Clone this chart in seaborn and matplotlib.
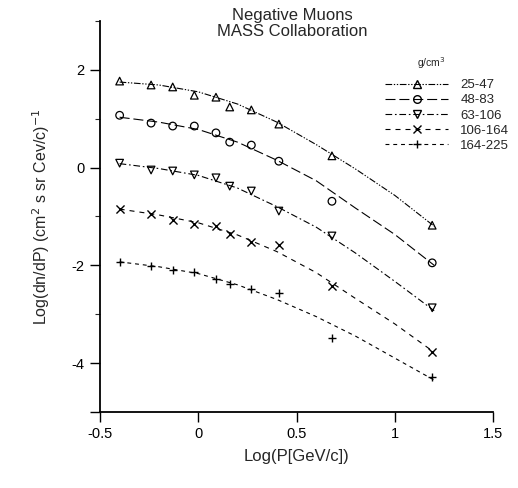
import numpy as np
import pandas as pd
import matplotlib
matplotlib.use("Agg")
import matplotlib.pyplot as plt
from matplotlib.lines import Line2D
from matplotlib.ticker import MultipleLocator
import seaborn as sns

sns.set_theme(style="ticks")
plt.rcParams['font.family'] = ['Liberation Sans', 'DejaVu Sans']

labels = ["25-47", "48-83", "63-106", "106-164", "164-225"]
markers = ["^", "o", "v", "x", "+"]

# measured points (log P, log dn/dP)
x_pts = [-0.40, -0.24, -0.13, -0.02, 0.09, 0.16, 0.27, 0.41, 0.68, 1.19]
y_25_47 = [1.77, 1.69, 1.65, 1.48, 1.44, 1.24, 1.18, 0.89, 0.24, -1.18]
y_48_83 = [1.07, 0.91, 0.85, 0.85, 0.71, 0.52, 0.46, 0.13, -0.69, -1.95]
y_63_106 = [0.09, -0.05, -0.07, -0.15, -0.21, -0.38, -0.48, -0.89, -1.40, -2.87]
y_106_164 = [-0.85, -0.95, -1.07, -1.16, -1.20, -1.36, -1.52, -1.58, -2.42, -3.77]
y_164_225 = [-1.93, -2.01, -2.10, -2.14, -2.28, -2.38, -2.48, -2.57, -3.48, -4.28]

# fitted curves
x_fit = [-0.40, -0.20, 0.00, 0.20, 0.40, 0.60, 0.80, 1.00, 1.20]
f_25_47 = [1.75, 1.69, 1.55, 1.30, 0.93, 0.47, -0.03, -0.57, -1.20]
f_48_83 = [1.03, 0.93, 0.78, 0.52, 0.15, -0.27, -0.83, -1.37, -2.00]
f_63_106 = [0.08, -0.02, -0.16, -0.42, -0.80, -1.22, -1.75, -2.33, -2.93]
f_106_164 = [-0.85, -0.97, -1.13, -1.38, -1.72, -2.15, -2.68, -3.20, -3.78]
f_164_225 = [-1.93, -2.03, -2.17, -2.40, -2.70, -3.05, -3.45, -3.90, -4.35]

xtick_vals = [-0.5, 0, 0.5, 1, 1.5]
xtick_labels = ["-0.5", "0", "0.5", "1", "1.5"]
ytick_vals = [-5, -4, -2, 0, 2]
ytick_labels = ["", "-4", "-2", "0", "2"]

pts = [y_25_47, y_48_83, y_63_106, y_106_164, y_164_225]
fits = [f_25_47, f_48_83, f_63_106, f_106_164, f_164_225]
styles = [(0, (6, 1.5, 1.2, 1.5, 1.2, 1.5)), (0, (9, 3.5)), (0, (6, 2.5, 1.5, 2.5)),
          (0, (4.5, 4.5)), (0, (3.5, 3.5))]

fig = plt.figure(figsize=(5.18, 4.88), dpi=100)
ax = fig.add_axes([0.193, 0.156, 0.759, 0.801])

for lab, mk, yp, yf, ls in zip(labels, markers, pts, fits, styles):
    sns.lineplot(x=x_fit, y=yf, ax=ax, color="black", linewidth=0.8, linestyle=ls)
    if mk in ("x", "+"):
        sns.scatterplot(x=x_pts, y=yp, ax=ax, marker=mk, color="black", s=34, linewidth=1.0)
    else:
        sns.scatterplot(x=x_pts, y=yp, ax=ax, marker=mk, facecolor="none",
                        edgecolor="black", s=30, linewidth=0.9)

ax.set_xlim(-0.5, 1.5)
ax.set_ylim(-5, 3)
ax.set_xticks(xtick_vals)
ax.set_xticklabels(xtick_labels)
ax.set_yticks(ytick_vals)
ax.set_yticklabels(ytick_labels)
ax.yaxis.set_minor_locator(MultipleLocator(1))
ax.tick_params(axis="both", which="major", direction="out", length=7.5, width=1.0,
               labelsize=10.5, colors="black")
ax.tick_params(axis="y", which="minor", direction="out", length=3.5, width=0.8)
for s in ["top", "right"]:
    ax.spines[s].set_visible(False)
for s in ["left", "bottom"]:
    ax.spines[s].set_color("black")
    ax.spines[s].set_linewidth(1.3)

ax.set_xlabel("Log(P[GeV/c])", fontsize=12, labelpad=6)
ax.set_ylabel("Log(dn/dP) (cm$^2$ s sr Cev/c)$^{-1}$", fontsize=11.5, labelpad=14)

fig.text(292 / 518, 1 - 8 / 488, "Negative Muons\nMASS Collaboration", ha="center", va="top",
         fontsize=12, linespacing=1.1)

fig.text(431 / 518, 1 - 63 / 488, "g/cm$^3$", ha="center", va="center", fontsize=7.5)

handles = [Line2D([], [], color="black", linewidth=0.8, linestyle=ls, marker=mk,
                  markerfacecolor="none", markeredgecolor="black", markersize=5.5)
           for mk, ls in zip(markers, styles)]
leg = fig.legend(handles, labels, loc="upper left",
                 bbox_to_anchor=(385 / 518, 1 - 79 / 488), frameon=False, fontsize=9.5,
                 numpoints=1, handlelength=4.8, borderpad=0, borderaxespad=0,
                 labelspacing=0.22, handletextpad=0.9)

fig.savefig("out.png", dpi=100)
